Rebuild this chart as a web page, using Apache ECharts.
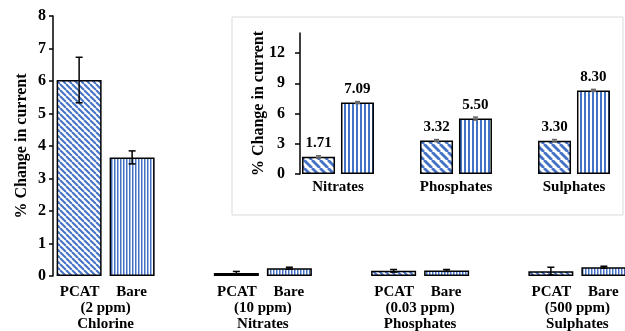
<!DOCTYPE html>
<html>
<head>
<meta charset="utf-8">
<script src="https://cdn.jsdelivr.net/npm/echarts@6/dist/echarts.min.js"></script>
<style>
  html, body { margin: 0; padding: 0; background: #fff; }
  #main { width: 625px; height: 331px; }
</style>
</head>
<body>
<div id="main"></div>
<script>
// main chart data
var categories = ["Chlorine", "Nitrates", "Phosphates", "Sulphates"];
var concentrations = ["(2 ppm)", "(10 ppm)", "(0.03 ppm)", "(500 ppm)"];
var pcatMain = [6.03, 0.09, 0.16, 0.15];
var bareMain = [3.65, 0.24, 0.17, 0.27];
var pcatMainErr = [0.7, 0.05, 0.04, 0.12];
var bareMainErr = [0.2, 0.03, 0.03, 0.03];
var mainTicks = [0, 1, 2, 3, 4, 5, 6, 7, 8];

// inset data
var insetCategories = ["Nitrates", "Phosphates", "Sulphates"];
var pcatInset = [1.71, 3.32, 3.30];
var bareInset = [7.09, 5.50, 8.30];
var pcatInsetErr = [0.1, 0.1, 0.12];
var bareInsetErr = [0.1, 0.15, 0.1];
var insetTicks = [0, 3, 6, 9, 12];

var blue = "#4472C4";
var font = "'Liberation Serif', 'Times New Roman', serif";

//斜纹
function diagPattern(size, lw) {
  var c = document.createElement("canvas");
  c.width = c.height = size;
  var ctx = c.getContext("2d");
  ctx.fillStyle = "#fff";
  ctx.fillRect(0, 0, size, size);
  ctx.strokeStyle = blue;
  ctx.lineWidth = lw;
  for (var k = -1; k <= 1; k++) {
    ctx.beginPath();
    ctx.moveTo(k * size, 0);
    ctx.lineTo(k * size + size, size);
    ctx.stroke();
  }
  return c;
}
//竖纹
function vertPattern(period, w) {
  var c = document.createElement("canvas");
  c.width = period;
  c.height = 4;
  var ctx = c.getContext("2d");
  ctx.fillStyle = "#fff";
  ctx.fillRect(0, 0, period, 4);
  ctx.fillStyle = blue;
  ctx.fillRect(0, 0, w, 4);
  return c;
}

function errorSeries(xi, yi, vals, errs, offset, color, cap) {
  return {
    type: "custom",
    xAxisIndex: xi,
    yAxisIndex: yi,
    z: 5,
    silent: true,
    renderItem: function(params, api) {
      var c = api.value(0), v = api.value(1), e = api.value(2);
      var hi = api.coord([c, v + e]);
      var lo = api.coord([c, v - e]);
      var x = hi[0] + offset;
      var st = { stroke: color, lineWidth: 1.5 };
      return {
        type: "group",
        children: [
          { type: "line", shape: { x1: x, y1: hi[1], x2: x, y2: lo[1] }, style: st },
          { type: "line", shape: { x1: x - cap, y1: hi[1], x2: x + cap, y2: hi[1] }, style: st },
          { type: "line", shape: { x1: x - cap, y1: lo[1], x2: x + cap, y2: lo[1] }, style: st }
        ]
      };
    },
    data: vals.map(function(v, i) { return [i, v, errs[i]]; })
  };
}

var labelStyle = { fontFamily: font, fontWeight: "bold", color: "#000" };

var myChart = echarts.init(document.getElementById("main"));
myChart.setOption({
  animation: false,
  textStyle: { fontFamily: font },
  graphic: [
    {
      type: "rect",
      z: -10,
      shape: { x: 232, y: 17, width: 391, height: 198 },
      style: { fill: "#fff", stroke: "#d9d9d9", lineWidth: 1 }
    }
  ],
  grid: [
    { left: 27, right: -31, top: 16, bottom: 55, outerBoundsMode: "none", containLabel: false },
    { left: 279, right: -8, top: 33, bottom: 157, outerBoundsMode: "none", containLabel: false }
  ],
  xAxis: [
    {
      type: "category",
      gridIndex: 0,
      data: categories,
      axisLine: { show: false },
      axisTick: { show: false },
      axisLabel: {
        margin: 8,
        interval: 0,
        fontFamily: font,
        fontWeight: "bold",
        fontSize: 15,
        color: "#000",
        lineHeight: 16,
        formatter: function(v, i) {
          return "{p|PCAT}{b|Bare}\n" + concentrations[i] + "\n" + v;
        },
        rich: {
          p: { width: 52, align: "center", fontFamily: font, fontWeight: "bold", fontSize: 15, lineHeight: 16 },
          b: { width: 52, align: "center", fontFamily: font, fontWeight: "bold", fontSize: 15, lineHeight: 16 }
        }
      }
    },
    {
      type: "category",
      gridIndex: 1,
      data: insetCategories,
      axisLine: { show: false },
      axisTick: { show: false },
      axisLabel: Object.assign({ margin: 6, interval: 0, fontSize: 15 }, labelStyle)
    }
  ],
  yAxis: [
    {
      type: "value",
      gridIndex: 0,
      min: mainTicks[0],
      max: mainTicks[mainTicks.length - 1],
      interval: 1,
      offset: -26,
      name: "% Change in current",
      nameLocation: "middle",
      nameGap: 23,
      nameMoveOverlap: false,
      nameTextStyle: Object.assign({ fontSize: 16 }, labelStyle),
      axisLine: { show: true, lineStyle: { color: "#000", width: 1.5 } },
      axisTick: { show: true, inside: false, length: 4, lineStyle: { color: "#000", width: 1.5 } },
      axisLabel: Object.assign({ margin: 7, fontSize: 16 }, labelStyle),
      splitLine: { show: false }
    },
    {
      type: "value",
      gridIndex: 1,
      min: insetTicks[0],
      max: 14,
      interval: 3,
      offset: -21,
      name: "% Change in current",
      nameLocation: "middle",
      nameGap: 33,
      nameMoveOverlap: false,
      nameTextStyle: Object.assign({ fontSize: 16 }, labelStyle),
      axisLine: { show: true, lineStyle: { color: "#000", width: 1.5 } },
      axisTick: { show: true, length: 5, lineStyle: { color: "#000", width: 1.5 } },
      axisLabel: Object.assign({ margin: 15, fontSize: 16, showMaxLabel: false }, labelStyle),
      splitLine: { show: false }
    }
  ],
  series: [
    {
      name: "PCAT",
      type: "bar",
      xAxisIndex: 0,
      yAxisIndex: 0,
      barWidth: 45,
      barGap: "17.8%",
      itemStyle: { color: { image: diagPattern(6, 2), repeat: "repeat" }, borderColor: "#000", borderWidth: 1.5 },
      data: pcatMain
    },
    {
      name: "Bare",
      type: "bar",
      xAxisIndex: 0,
      yAxisIndex: 0,
      barWidth: 45,
      barGap: "17.8%",
      itemStyle: { color: { image: vertPattern(3, 1.5), repeat: "repeat" }, borderColor: "#000", borderWidth: 1.5 },
      data: bareMain
    },
    errorSeries(0, 0, pcatMain, pcatMainErr, -26.5, "#000", 3.5),
    errorSeries(0, 0, bareMain, bareMainErr, 26.5, "#000", 3.5),
    {
      name: "PCAT inset",
      type: "bar",
      xAxisIndex: 1,
      yAxisIndex: 1,
      barWidth: 33,
      barGap: "18%",
      itemStyle: { color: { image: diagPattern(8, 2.8), repeat: "repeat" }, borderColor: "#000", borderWidth: 1.5 },
      label: Object.assign({ show: true, position: "top", distance: 6, fontSize: 15, formatter: function(p) { return p.value.toFixed(2); } }, labelStyle),
      data: pcatInset
    },
    {
      name: "Bare inset",
      type: "bar",
      xAxisIndex: 1,
      yAxisIndex: 1,
      barWidth: 33,
      barGap: "18%",
      itemStyle: { color: { image: vertPattern(4, 2), repeat: "repeat" }, borderColor: "#000", borderWidth: 1.5 },
      label: Object.assign({ show: true, position: "top", distance: 6, fontSize: 15, formatter: function(p) { return p.value.toFixed(2); } }, labelStyle),
      data: bareInset
    },
    errorSeries(1, 1, pcatInset, pcatInsetErr, -19.5, "#666", 2.5),
    errorSeries(1, 1, bareInset, bareInsetErr, 19.5, "#666", 2.5)
  ]
});
</script>
</body>
</html>
